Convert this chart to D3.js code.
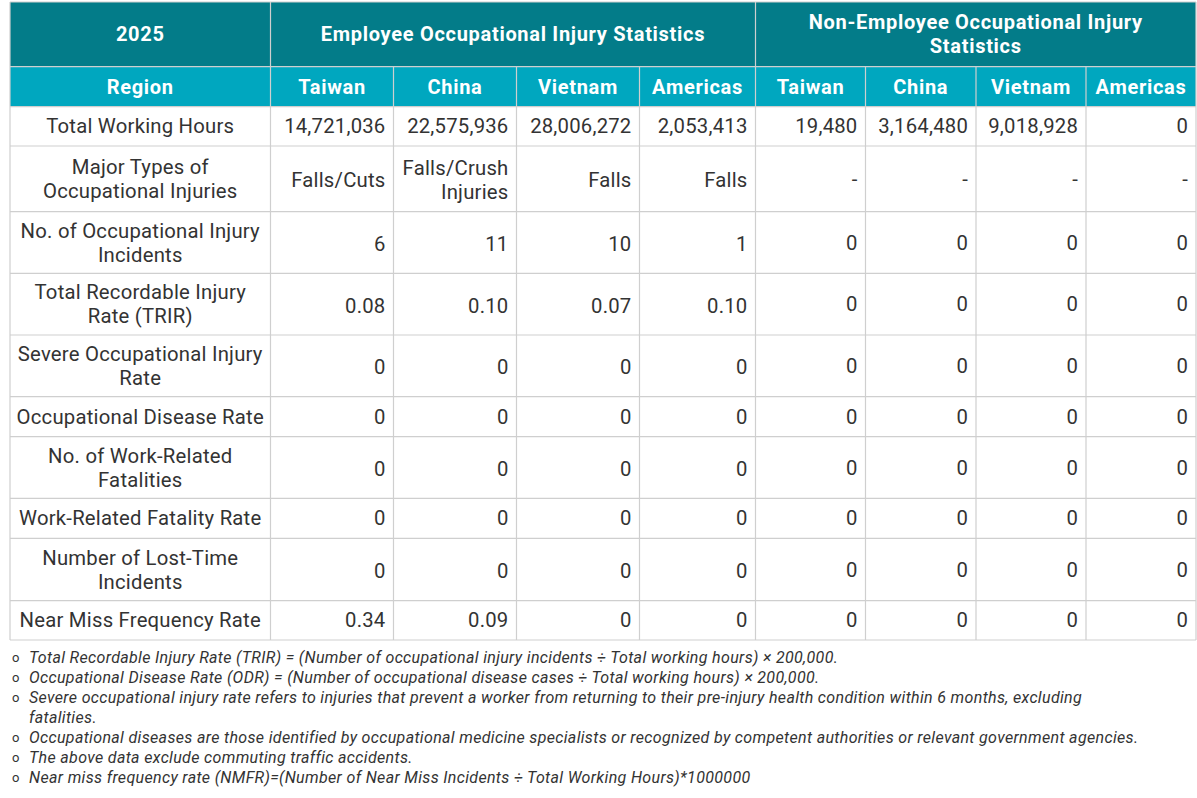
<!DOCTYPE html>
<html>
<head>
<meta charset="utf-8">
<script src="https://cdn.jsdelivr.net/npm/d3@7"></script>
<style>
  body { margin: 0; background: #fff; }
  text { font-family: "Segoe UI", Roboto, sans-serif; }
</style>
</head>
<body>
<div id="chart-area"></div>
<script>
// table content
var year = "2025";
var groupTitles = ["Employee Occupational Injury Statistics", "Non-Employee Occupational Injury\nStatistics"];
var regions = ["Taiwan", "China", "Vietnam", "Americas"];
var metrics = [
  "Total Working Hours",
  "Major Types of\nOccupational Injuries",
  "No. of Occupational Injury\nIncidents",
  "Total Recordable Injury\nRate (TRIR)",
  "Severe Occupational Injury\nRate",
  "Occupational Disease Rate",
  "No. of Work-Related\nFatalities",
  "Work-Related Fatality Rate",
  "Number of Lost-Time\nIncidents",
  "Near Miss Frequency Rate"
];
// employee Taiwan, China, Vietnam, Americas, then non-employee Taiwan, China, Vietnam, Americas
var workingHours = [14721036, 22575936, 28006272, 2053413, 19480, 3164480, 9018928, 0];
var injuryTypes = ["Falls/Cuts", "Falls/Crush\nInjuries", "Falls", "Falls", "-", "-", "-", "-"];
var injuryIncidents = [6, 11, 10, 1, 0, 0, 0, 0];
var trir = [0.08, 0.10, 0.07, 0.10, 0, 0, 0, 0];
var severeRate = [0, 0, 0, 0, 0, 0, 0, 0];
var diseaseRate = [0, 0, 0, 0, 0, 0, 0, 0];
var fatalities = [0, 0, 0, 0, 0, 0, 0, 0];
var fatalityRate = [0, 0, 0, 0, 0, 0, 0, 0];
var lostTime = [0, 0, 0, 0, 0, 0, 0, 0];
var nearMiss = [0.34, 0.09, 0, 0, 0, 0, 0, 0];
var notes = [
  "Total Recordable Injury Rate (TRIR) = (Number of occupational injury incidents ÷ Total working hours)  × 200,000.",
  "Occupational Disease Rate (ODR) = (Number of occupational disease cases  ÷ Total working hours)  × 200,000.",
  "Severe occupational injury rate refers to injuries that prevent a worker from returning to their pre-injury health condition within 6 months, excluding\nfatalities.",
  "Occupational diseases are those identified by occupational medicine specialists or recognized by competent authorities or relevant government agencies.",
  "The above data exclude commuting traffic accidents.",
  "Near miss frequency rate (NMFR)=(Number of Near Miss Incidents ÷ Total Working Hours)*1000000"
];

var fmtInt = d3.format(",");
var fmtRate = function(v) { return v === 0 ? "0" : d3.format(".2f")(v); };
var rowValues = [
  workingHours.map(fmtInt),
  injuryTypes,
  injuryIncidents.map(fmtInt),
  trir.map(fmtRate),
  severeRate.map(fmtRate),
  diseaseRate.map(fmtRate),
  fatalities.map(fmtInt),
  fatalityRate.map(fmtRate),
  lostTime.map(fmtInt),
  nearMiss.map(fmtRate)
];

var width = 1197, height = 798;
var darkTeal = "#037c89", lightTeal = "#00a7bf", gridColor = "#cfcfcf", ink = "#333";

var svg = d3.select("#chart-area").append("svg")
  .attr("width", width).attr("height", height);

// columns: label column + 8 value columns
var colKeys = ["label"].concat(regions.map(r => "emp-" + r), regions.map(r => "non-" + r));
var colEdges = [10, 270.5, 393.5, 516.5, 639.5, 755.5, 865.5, 976, 1086, 1196];
var x = d3.scaleOrdinal().domain(colKeys).range(colEdges.slice(0, -1));
var colW = d3.scaleOrdinal().domain(colKeys).range(d3.pairs(colEdges).map(p => p[1] - p[0]));

// rows: two header rows + one per metric
var rowKeys = ["group", "region"].concat(metrics);
var rowEdges = [2, 66.7, 106.7, 146, 211.7, 273.3, 335, 396.7, 436.7, 498.3, 538.3, 600.7, 640];
var y = d3.scaleOrdinal().domain(rowKeys).range(rowEdges.slice(0, -1));
var rowH = d3.scaleOrdinal().domain(rowKeys).range(d3.pairs(rowEdges).map(p => p[1] - p[0]));

var lineH = 24;

// one <text> per line so lines stay separate
function addText(g, str, tx, yc, anchor, opts) {
  var lines = String(str).split("\n");
  var y0 = yc - (lines.length - 1) * lineH / 2;
  lines.forEach(function(l, i) {
    g.append("text")
      .attr("x", tx)
      .attr("y", y0 + i * lineH)
      .attr("dy", "0.35em")
      .attr("text-anchor", anchor)
      .attr("font-size", opts.size)
      .attr("font-weight", opts.weight || "normal")
      .attr("letter-spacing", opts.spacing || 0)
      .attr("fill", opts.fill)
      .text(l);
  });
}

var table = svg.append("g");

// header backgrounds
var hx0 = x("label"), hx1 = x("emp-Taiwan"), hx2 = x("non-Taiwan"), hx3 = colEdges[colEdges.length - 1];
table.append("rect").attr("x", hx0).attr("y", y("group")).attr("width", hx3 - hx0)
  .attr("height", rowH("group")).attr("fill", darkTeal);
table.append("rect").attr("x", hx0).attr("y", y("region")).attr("width", hx3 - hx0)
  .attr("height", rowH("region")).attr("fill", lightTeal);

var hdrOpts = {size: 20, weight: "bold", fill: "#fff", spacing: 0.7};
var g1c = y("group") + rowH("group") / 2;
addText(table, year, (hx0 + hx1) / 2, g1c, "middle", hdrOpts);
addText(table, groupTitles[0], (hx1 + hx2) / 2, g1c, "middle", hdrOpts);
addText(table, groupTitles[1], (hx2 + hx3) / 2, g1c, "middle", hdrOpts);

var g2c = y("region") + rowH("region") / 2;
addText(table, "Region", x("label") + colW("label") / 2, g2c, "middle", hdrOpts);
colKeys.slice(1).forEach(function(k) {
  addText(table, k.split("-")[1], x(k) + colW(k) / 2, g2c, "middle", hdrOpts);
});

// body rows
var bodyOpts = {size: 20.3, fill: ink, spacing: 0.22};
metrics.forEach(function(m, ri) {
  var yc = y(m) + rowH(m) / 2;
  addText(table, m, x("label") + colW("label") / 2, yc, "middle", bodyOpts);
  rowValues[ri].forEach(function(v, ci) {
    var k = colKeys[ci + 1];
    var off = (ci < 4 && rowH(m) > 50) ? 1.5 : 0;
    addText(table, v, x(k) + colW(k) - 8, yc + off, "end", bodyOpts);
  });
});

// grid lines
var grid = table.append("g").attr("stroke", gridColor).attr("stroke-width", 1.2);
rowEdges.forEach(function(ry) {
  grid.append("line").attr("x1", hx0).attr("x2", hx3).attr("y1", ry).attr("y2", ry);
});
colEdges.forEach(function(cx, i) {
  var top = (i === 0 || i === 1 || i === 5 || i === colEdges.length - 1) ? rowEdges[0] : rowEdges[1];
  grid.append("line").attr("x1", cx).attr("x2", cx).attr("y1", top).attr("y2", rowEdges[rowEdges.length - 1]);
});

// footnotes
var notesG = svg.append("g");
var noteY = 657, noteStep = 20;
var n = 0;
notes.forEach(function(note) {
  var lines = note.split("\n");
  notesG.append("text").attr("x", 12).attr("y", noteY + n * noteStep).attr("dy", "0.35em")
    .attr("font-size", 13).attr("fill", ink).text("o");
  lines.forEach(function(l) {
    notesG.append("text").attr("x", 29).attr("y", noteY + n * noteStep).attr("dy", "0.35em")
      .attr("font-size", 16).attr("letter-spacing", 0.34)
      .attr("font-style", "italic").attr("fill", ink).text(l);
    n++;
  });
});
</script>
</body>
</html>
